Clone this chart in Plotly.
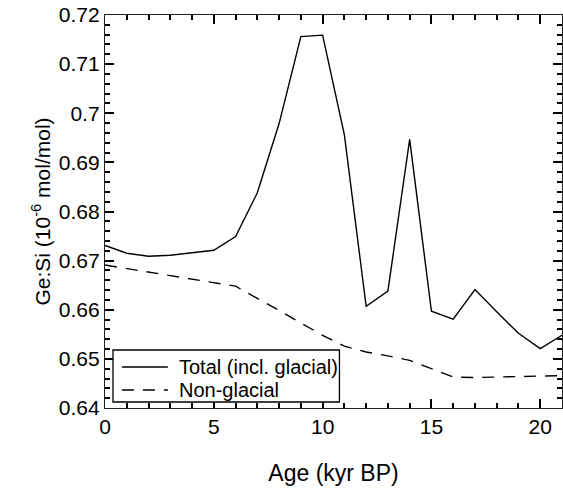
import plotly.graph_objects as go

age = list(range(0, 22))
total = [0.6731, 0.6715, 0.6709, 0.6711, 0.6716, 0.6721, 0.6749, 0.6838, 0.6979, 0.7156,
         0.7159, 0.6956, 0.6607, 0.6638, 0.6947, 0.6597, 0.6581, 0.6641, 0.6596, 0.6552,
         0.6521, 0.6548]
nonglacial = [0.6691, 0.6684, 0.6677, 0.6670, 0.6662, 0.6655, 0.6648, 0.6623, 0.6599, 0.6573,
              0.6548, 0.6526, 0.6514, 0.6506, 0.6497, 0.6480, 0.6463, 0.6462, 0.6463, 0.6464,
              0.6465, 0.6466]
series_names = ["Total (incl. glacial)", "Non-glacial"]
x_ticks = [0, 5, 10, 15, 20]
y_ticks = [0.64, 0.65, 0.66, 0.67, 0.68, 0.69, 0.70, 0.71, 0.72]
y_tick_labels = ["0.64", "0.65", "0.66", "0.67", "0.68", "0.69", "0.7", "0.71", "0.72"]
x_range = [0, 21]
y_range = [0.64, 0.72]

font = "Liberation Sans, Arial, sans-serif"
ink = "#222"
dash_style = "12px,9px"
fig = go.Figure()
fig.add_trace(go.Scatter(x=age, y=total, mode="lines", name=series_names[0], showlegend=False,
                         line=dict(color="black", width=1.4)))
fig.add_trace(go.Scatter(x=age, y=nonglacial, mode="lines", name=series_names[1], showlegend=False,
                         line=dict(color="black", width=1.4, dash=dash_style)))

tick_common = dict(ticks="inside", ticklen=9, tickwidth=1.6, tickcolor="black",
                   showgrid=False, zeroline=False, showline=True, linecolor=ink,
                   linewidth=1.3, mirror="allticks")
xminor = dict(dtick=1, tick0=0, ticklen=5, ticks="inside", tickcolor="black", tickwidth=1.6)
yminor = dict(dtick=0.002, tick0=0.64, ticklen=5, ticks="inside", tickcolor="black", tickwidth=1.6)
fig.update_layout(
    width=563, height=492, margin=dict(l=105, r=1, t=15, b=84),
    paper_bgcolor="white", plot_bgcolor="white",
    xaxis=dict(range=x_range, tickmode="array", tickvals=x_ticks, minor=xminor,
               tickfont=dict(family=font, size=21, color="black"),
               title=dict(text="Age (kyr BP)", font=dict(family=font, size=23, color="black"), standoff=27),
               **tick_common),
    yaxis=dict(range=y_range, tickmode="array", tickvals=y_ticks, ticktext=y_tick_labels, minor=yminor,
               ticksuffix="\u00a0",
               tickfont=dict(family=font, size=21, color="black"),
               title=dict(text="Ge:Si (10<sup>-6</sup> mol/mol)", font=dict(family=font, size=21, color="black"), standoff=2),
               **tick_common),
)

# hand-built legend box (paper coordinates of the plot area)
fig.add_shape(type="rect", xref="paper", yref="paper", x0=0.0175, x1=0.513, y0=0.0153, y1=0.1476,
              line=dict(color="black", width=1.3), fillcolor="white", layer="above")
legend_rows = [(0.1043, None), (0.0458, dash_style)]
for (ypos, dash), label in zip(legend_rows, series_names):
    fig.add_shape(type="line", xref="paper", yref="paper", x0=0.037, x1=0.1376, y0=ypos, y1=ypos,
                  line=dict(color="black", width=1.4, dash=dash), layer="above")
    fig.add_annotation(text=label, xref="paper", yref="paper", x=0.158, y=ypos,
                       xanchor="left", yanchor="middle", showarrow=False,
                       font=dict(family=font, size=20, color="black"))

fig.write_html("out.html", config={"displayModeBar": False},
               post_script="document.body.style.margin='0';document.body.style.overflow='hidden';")
